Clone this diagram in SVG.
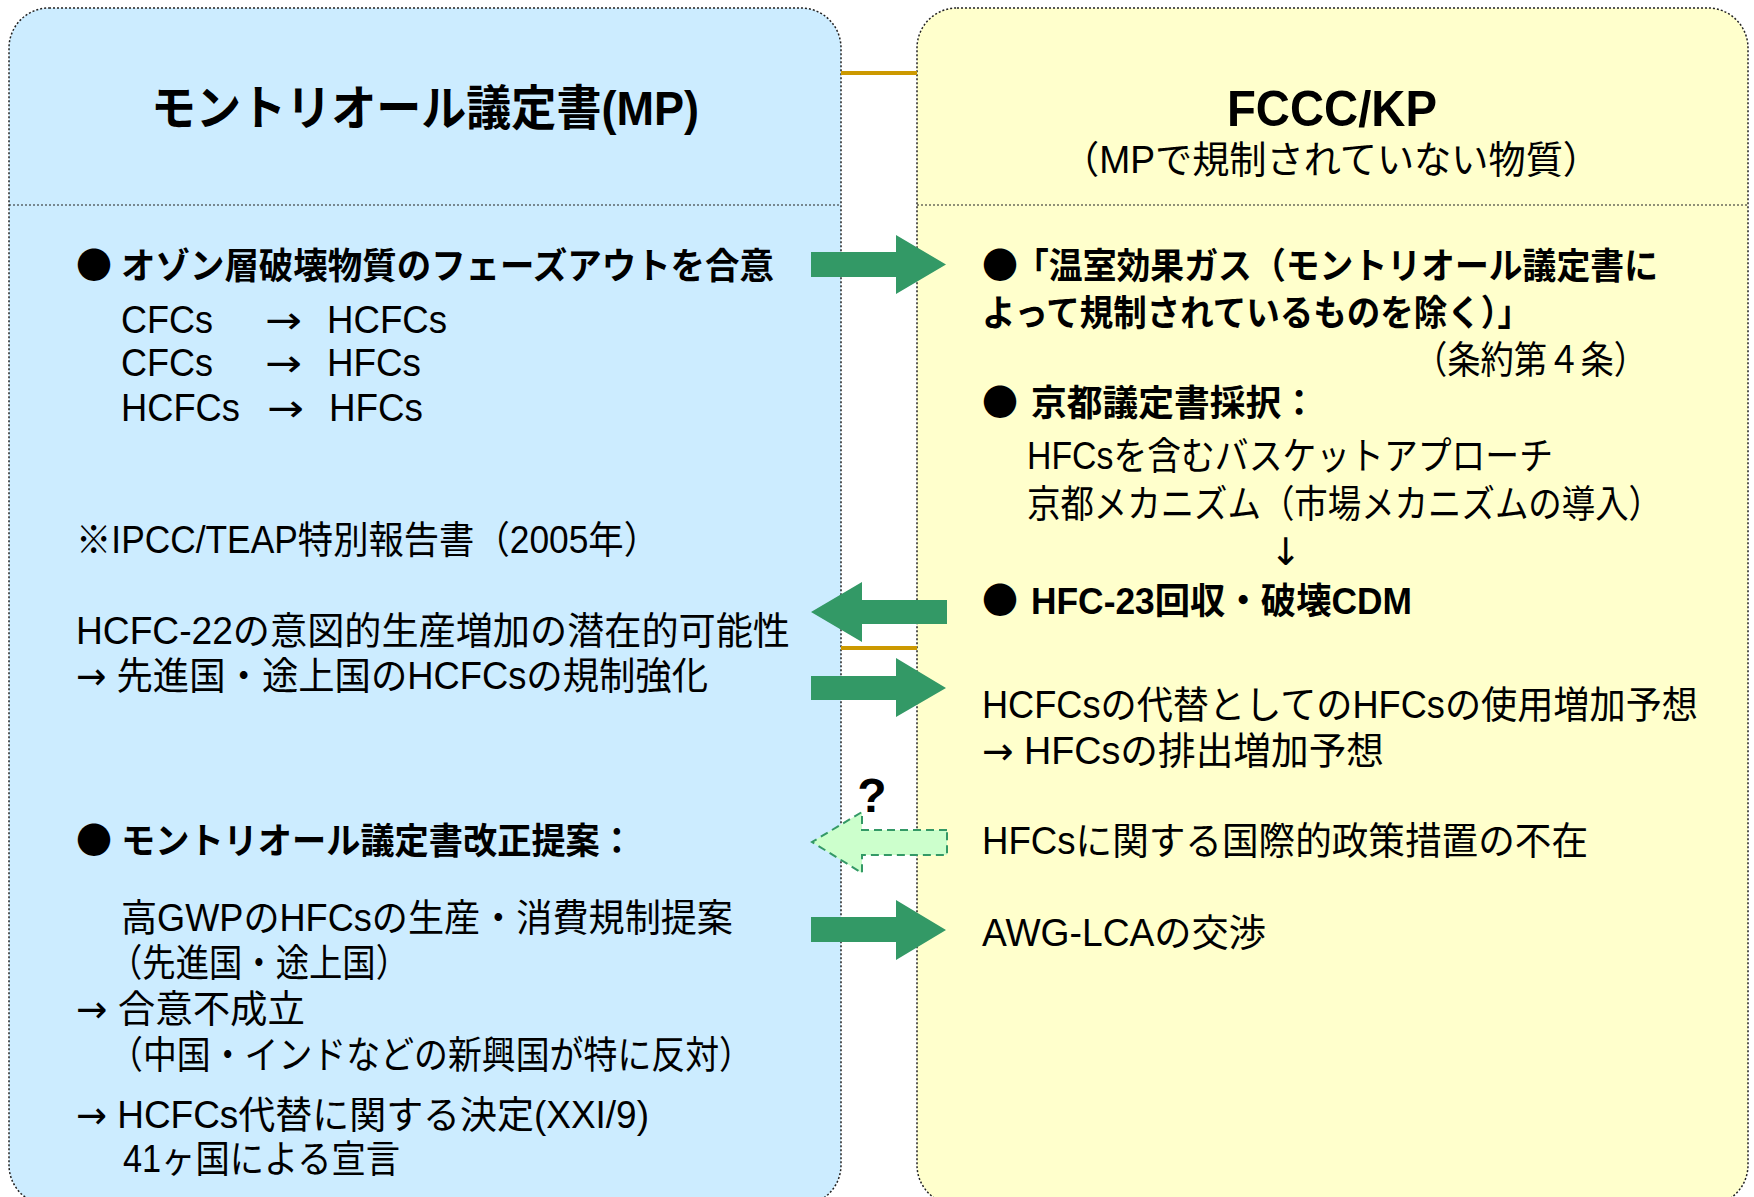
<svg xmlns="http://www.w3.org/2000/svg" width="1754" height="1197" viewBox="0 0 1754 1197">
<style>
text{font-family:"Liberation Sans","Noto Sans CJK JP",sans-serif;fill:#000}
.n{font-size:38px}
.b{font-size:36px;font-weight:bold}
.h{font-size:48px;font-weight:bold}
.bul{font-family:"Noto Sans CJK JP",sans-serif;font-size:36px}
.ar{font-family:"DejaVu Sans",sans-serif}
.panel{stroke:#222;stroke-width:1.5;stroke-dasharray:2 2}
.div{stroke:#222;stroke-width:1.2;stroke-dasharray:2 2;fill:none}
.gold{stroke:#CC9900;stroke-width:4}
.arr{fill:#339966}
.arrd{fill:#CCFFCC;stroke:#339966;stroke-width:2;stroke-dasharray:8 5}
</style>
<rect width="1754" height="1197" fill="#fff"/>
<g id="mp">
<rect class="panel" x="9" y="8" width="832" height="1197" rx="40" fill="#CCECFF"/>
<line class="div" x1="9" y1="205" x2="841" y2="205"/>
<text class="h" x="151" y="125" textLength="548" lengthAdjust="spacingAndGlyphs">モントリオール議定書(MP)</text>
<text class="bul" x="76" y="279">●</text>
<text class="b" x="121" y="279" textLength="653" lengthAdjust="spacingAndGlyphs">オゾン層破壊物質のフェーズアウトを合意</text>
<text class="n" x="121" y="333" textLength="92" lengthAdjust="spacingAndGlyphs">CFCs</text>
<text class="n ar" x="265" y="333" textLength="37" lengthAdjust="spacingAndGlyphs">→</text>
<text class="n" x="327" y="333" textLength="120" lengthAdjust="spacingAndGlyphs">HCFCs</text>
<text class="n" x="121" y="376" textLength="92" lengthAdjust="spacingAndGlyphs">CFCs</text>
<text class="n ar" x="265" y="376" textLength="37" lengthAdjust="spacingAndGlyphs">→</text>
<text class="n" x="327" y="376" textLength="94" lengthAdjust="spacingAndGlyphs">HFCs</text>
<text class="n" x="121" y="421" textLength="119" lengthAdjust="spacingAndGlyphs">HCFCs</text>
<text class="n ar" x="267" y="421" textLength="37" lengthAdjust="spacingAndGlyphs">→</text>
<text class="n" x="329" y="421" textLength="94" lengthAdjust="spacingAndGlyphs">HFCs</text>
<text class="n" x="76" y="553" textLength="583" lengthAdjust="spacingAndGlyphs">※IPCC/TEAP特別報告書（2005年）</text>
<text class="n" x="76" y="644" textLength="714" lengthAdjust="spacingAndGlyphs">HCFC-22の意図的生産増加の潜在的可能性</text>
<text class="n" x="76" y="689" textLength="632" lengthAdjust="spacingAndGlyphs"><tspan class="ar">→</tspan> 先進国・途上国のHCFCsの規制強化</text>
<text class="bul" x="76" y="854">●</text>
<text class="b" x="121" y="854" textLength="513" lengthAdjust="spacingAndGlyphs">モントリオール議定書改正提案：</text>
<text class="n" x="121" y="931" textLength="612" lengthAdjust="spacingAndGlyphs">高GWPのHFCsの生産・消費規制提案</text>
<text class="n" x="109" y="976" textLength="300" lengthAdjust="spacingAndGlyphs">（先進国・途上国）</text>
<text class="n" x="76" y="1022" textLength="229" lengthAdjust="spacingAndGlyphs"><tspan class="ar">→</tspan> 合意不成立</text>
<text class="n" x="109" y="1068" textLength="644" lengthAdjust="spacingAndGlyphs">（中国・インドなどの新興国が特に反対）</text>
<text class="n" x="76" y="1128" textLength="573" lengthAdjust="spacingAndGlyphs"><tspan class="ar">→</tspan> HCFCs代替に関する決定(XXI/9)</text>
<text class="n" x="123" y="1172" textLength="277" lengthAdjust="spacingAndGlyphs">41ヶ国による宣言</text>
</g>
<g id="fccc">
<rect class="panel" x="917" y="8" width="831" height="1197" rx="40" fill="#FFFFCC"/>
<line class="div" x1="917" y1="205" x2="1748" y2="205"/>
<text class="h" x="1227" y="126" style="font-size:50px" textLength="210" lengthAdjust="spacingAndGlyphs">FCCC/KP</text>
<text class="n" x="1062" y="173" textLength="538" lengthAdjust="spacingAndGlyphs">（MPで規制されていない物質）</text>
<text class="bul" x="982" y="279">●</text>
<text class="b" x="1015" y="279" textLength="643" lengthAdjust="spacingAndGlyphs">「温室効果ガス（モントリオール議定書に</text>
<text class="b" x="982" y="326" textLength="549" lengthAdjust="spacingAndGlyphs">よって規制されているものを除く）」</text>
<text class="n" x="1414" y="373" textLength="233" lengthAdjust="spacingAndGlyphs">（条約第４条）</text>
<text class="bul" x="982" y="416">●</text>
<text class="b" x="1031" y="416" textLength="286" lengthAdjust="spacingAndGlyphs">京都議定書採択：</text>
<text class="n" x="1027" y="469" textLength="526" lengthAdjust="spacingAndGlyphs">HFCsを含むバスケットアプローチ</text>
<text class="n" x="1027" y="517" textLength="635" lengthAdjust="spacingAndGlyphs">京都メカニズム（市場メカニズムの導入）</text>
<text class="n ar" x="1286" y="565" text-anchor="middle">↓</text>
<text class="bul" x="982" y="614">●</text>
<text class="b" x="1031" y="614" textLength="381" lengthAdjust="spacingAndGlyphs">HFC-23回収・破壊CDM</text>
<text class="n" x="982" y="718" textLength="716" lengthAdjust="spacingAndGlyphs">HCFCsの代替としてのHFCsの使用増加予想</text>
<text class="n" x="982" y="764" textLength="402" lengthAdjust="spacingAndGlyphs"><tspan class="ar">→</tspan> HFCsの排出増加予想</text>
<text class="n" x="982" y="854" textLength="606" lengthAdjust="spacingAndGlyphs">HFCsに関する国際的政策措置の不在</text>
<text class="n" x="982" y="946" textLength="284" lengthAdjust="spacingAndGlyphs">AWG-LCAの交渉</text>
</g>
<g id="connectors">
<line class="gold" x1="841" y1="73" x2="917" y2="73"/>
<line class="gold" x1="841" y1="648" x2="917" y2="648"/>
<polygon class="arr" points="811,252 896,252 896,235 946,264.5 896,294 896,277 811,277"/>
<polygon class="arr" points="947,600 862,600 862,582 811,612 862,642 862,624 947,624"/>
<polygon class="arr" points="811,676 896,676 896,658 946,688 896,717 896,700 811,700"/>
<polygon class="arrd" points="947,830 862,830 862,812 812,842 862,873 862,855 947,855"/>
<polygon class="arr" points="811,917 896,917 896,900 946,930 896,960 896,942 811,942"/>
<text x="872" y="812" text-anchor="middle" style="font-size:48px;font-weight:bold">?</text>
</g>
</svg>
